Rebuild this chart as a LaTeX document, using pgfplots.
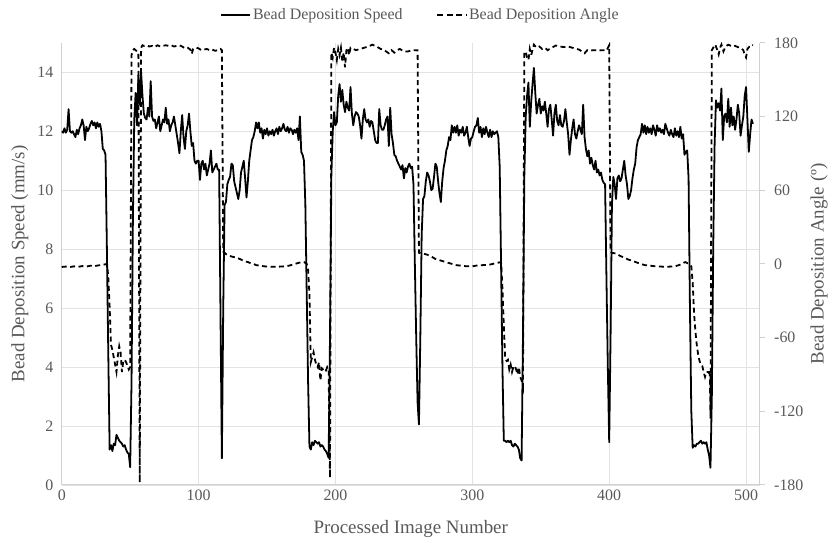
\documentclass[border=0pt]{standalone}
\usepackage{fontspec}
\setmainfont{Liberation Serif}
\usepackage{pgfplots}
\usepackage{pgfplotstable}
\pgfplotsset{compat=1.18}
\definecolor{txtgray}{HTML}{595959}
\definecolor{axgray}{HTML}{D0D0D0}
\definecolor{gridgray}{HTML}{E3E3E3}

\pgfplotstableread[row sep=\\]{
n s\\
0 12.0\\ 1 11.95\\ 2 12.1\\ 3 11.95\\ 4 12.05\\ 5 12.75\\ 6 12.0\\ 7 11.95\\ 8 12.0\\ 9 11.9\\
10 11.8\\ 11 12.05\\ 12 11.9\\ 13 12.1\\ 14 12.2\\ 15 12.4\\ 16 12.2\\ 17 11.7\\ 18 12.15\\ 19 12.0\\
20 12.1\\ 21 12.25\\ 22 12.35\\ 23 12.2\\ 24 12.3\\ 25 12.1\\ 26 12.3\\ 27 12.15\\ 28 12.25\\ 29 12.0\\
30 11.4\\ 31 11.35\\ 32 11.2\\ 33 8.0\\ 34 4.5\\ 35 1.2\\ 36 1.35\\ 37 1.15\\ 38 1.4\\ 39 1.35\\
40 1.7\\ 41 1.6\\ 42 1.5\\ 43 1.45\\ 44 1.4\\ 45 1.3\\ 46 1.35\\ 47 1.2\\ 48 1.1\\ 49 1.05\\
50 0.6\\ 51 3.5\\ 52 9.0\\ 53 12.4\\ 54 13.3\\ 55 12.2\\ 56 13.9\\ 57 12.9\\ 58 14.0\\ 59 13.2\\
60 12.6\\ 61 12.45\\ 62 12.4\\ 63 12.8\\ 64 12.5\\ 65 13.7\\ 66 12.5\\ 67 12.35\\ 68 12.4\\ 69 12.1\\
70 12.3\\ 71 12.5\\ 72 12.0\\ 73 12.2\\ 74 12.4\\ 75 12.3\\ 76 12.8\\ 77 12.25\\ 78 12.4\\ 79 12.0\\
80 12.2\\ 81 12.3\\ 82 12.5\\ 83 12.2\\ 84 11.9\\ 85 11.6\\ 86 11.25\\ 87 12.0\\ 88 12.55\\ 89 11.8\\
90 11.4\\ 91 12.0\\ 92 12.2\\ 93 12.6\\ 94 12.0\\ 95 11.5\\ 96 11.6\\ 97 11.0\\ 98 10.9\\ 99 11.0\\
100 11.0\\ 101 10.35\\ 102 10.9\\ 103 11.0\\ 104 10.7\\ 105 10.9\\ 106 10.5\\ 107 10.7\\ 108 10.9\\ 109 11.35\\
110 10.6\\ 111 10.7\\ 112 10.8\\ 113 10.9\\ 114 10.7\\ 115 10.7\\ 116 5.8\\ 117 0.9\\ 118 6.0\\ 119 9.5\\
120 9.6\\ 121 10.2\\ 122 10.35\\ 123 10.45\\ 124 10.9\\ 125 10.85\\ 126 10.3\\ 127 10.1\\ 128 9.9\\ 129 9.7\\
130 10.0\\ 131 10.6\\ 132 10.8\\ 133 11.0\\ 134 10.4\\ 135 9.75\\ 136 10.3\\ 137 11.0\\ 138 11.35\\ 139 11.7\\
140 11.8\\ 141 12.0\\ 142 12.3\\ 143 12.1\\ 144 12.3\\ 145 11.95\\ 146 12.1\\ 147 11.75\\ 148 12.05\\ 149 11.9\\
150 12.1\\ 151 11.85\\ 152 12.0\\ 153 11.9\\ 154 12.05\\ 155 11.85\\ 156 12.0\\ 157 12.1\\ 158 11.9\\ 159 12.15\\
160 12.0\\ 161 12.1\\ 162 12.25\\ 163 12.05\\ 164 12.0\\ 165 12.15\\ 166 11.95\\ 167 12.1\\ 168 12.05\\ 169 11.9\\
170 12.05\\ 171 11.95\\ 172 12.1\\ 173 11.7\\ 174 12.5\\ 175 11.3\\ 176 11.2\\ 177 11.0\\ 178 9.5\\ 179 6.5\\
180 3.5\\ 181 1.3\\ 182 1.2\\ 183 1.45\\ 184 1.35\\ 185 1.5\\ 186 1.45\\ 187 1.4\\ 188 1.45\\ 189 1.3\\
190 1.35\\ 191 1.3\\ 192 1.2\\ 193 1.15\\ 194 1.05\\ 195 0.92\\ 196 5.0\\ 197 10.5\\ 198 12.0\\ 199 12.65\\
200 12.2\\ 201 12.3\\ 202 13.2\\ 203 13.6\\ 204 13.0\\ 205 13.4\\ 206 12.9\\ 207 12.65\\ 208 13.0\\ 209 12.8\\
210 12.7\\ 211 13.5\\ 212 12.6\\ 213 12.2\\ 214 12.5\\ 215 12.65\\ 216 12.6\\ 217 12.5\\ 218 12.2\\ 219 11.75\\
220 12.4\\ 221 12.75\\ 222 12.4\\ 223 12.3\\ 224 12.4\\ 225 12.15\\ 226 12.35\\ 227 12.3\\ 228 12.0\\ 229 11.7\\
230 11.6\\ 231 11.6\\ 232 12.75\\ 233 12.2\\ 234 12.05\\ 235 12.05\\ 236 12.2\\ 237 12.4\\ 238 12.5\\ 239 11.5\\
240 12.8\\ 241 11.9\\ 242 11.6\\ 243 11.2\\ 244 11.15\\ 245 11.0\\ 246 10.9\\ 247 10.8\\ 248 10.7\\ 249 10.85\\
250 10.4\\ 251 10.75\\ 252 10.6\\ 253 10.8\\ 254 10.9\\ 255 10.75\\ 256 10.8\\ 257 10.2\\ 258 7.5\\ 259 5.0\\
260 2.8\\ 261 2.05\\ 262 5.0\\ 263 8.5\\ 264 9.7\\ 265 9.8\\ 266 10.3\\ 267 10.6\\ 268 10.5\\ 269 10.3\\
270 10.0\\ 271 10.05\\ 272 10.45\\ 273 10.9\\ 274 10.8\\ 275 10.3\\ 276 9.9\\ 277 9.6\\ 278 10.3\\ 279 10.75\\
280 11.0\\ 281 11.35\\ 282 11.5\\ 283 11.8\\ 284 11.7\\ 285 12.2\\ 286 11.95\\ 287 12.15\\ 288 11.95\\ 289 12.2\\
290 11.85\\ 291 12.05\\ 292 11.95\\ 293 12.15\\ 294 11.85\\ 295 11.95\\ 296 12.15\\ 297 11.8\\ 298 11.5\\ 299 11.75\\
300 11.8\\ 301 12.0\\ 302 12.15\\ 303 12.2\\ 304 12.45\\ 305 11.95\\ 306 12.15\\ 307 11.8\\ 308 12.1\\ 309 11.9\\
310 12.15\\ 311 11.95\\ 312 11.8\\ 313 12.05\\ 314 11.8\\ 315 12.0\\ 316 11.9\\ 317 11.95\\ 318 12.0\\ 319 11.8\\
320 10.8\\ 321 7.5\\ 322 4.0\\ 323 1.5\\ 324 1.5\\ 325 1.45\\ 326 1.5\\ 327 1.45\\ 328 1.5\\ 329 1.35\\
330 1.3\\ 331 1.4\\ 332 1.35\\ 333 1.3\\ 334 1.2\\ 335 0.9\\ 336 0.83\\ 337 5.0\\ 338 10.5\\ 339 12.5\\
340 13.2\\ 341 13.65\\ 342 12.15\\ 343 13.0\\ 344 13.6\\ 345 14.15\\ 346 13.3\\ 347 12.6\\ 348 12.9\\ 349 13.1\\
350 12.6\\ 351 12.85\\ 352 12.7\\ 353 13.0\\ 354 12.6\\ 355 12.15\\ 356 12.75\\ 357 12.9\\ 358 12.4\\ 359 11.85\\
360 12.6\\ 361 12.9\\ 362 12.35\\ 363 12.2\\ 364 12.55\\ 365 12.2\\ 366 12.15\\ 367 12.35\\ 368 12.75\\ 369 12.3\\
370 11.9\\ 371 11.2\\ 372 11.7\\ 373 12.1\\ 374 12.4\\ 375 11.9\\ 376 11.75\\ 377 12.0\\ 378 12.2\\ 379 12.05\\
380 11.9\\ 381 12.9\\ 382 11.8\\ 383 11.4\\ 384 11.15\\ 385 11.35\\ 386 10.9\\ 387 11.1\\ 388 10.85\\ 389 10.7\\
390 11.0\\ 391 10.6\\ 392 10.7\\ 393 10.5\\ 394 10.6\\ 395 10.35\\ 396 10.25\\ 397 10.2\\ 398 7.0\\ 399 4.0\\
400 1.45\\ 401 5.0\\ 402 9.5\\ 403 10.45\\ 404 10.2\\ 405 9.7\\ 406 10.4\\ 407 10.5\\ 408 10.3\\ 409 10.4\\
410 10.7\\ 411 11.0\\ 412 10.5\\ 413 10.2\\ 414 9.7\\ 415 9.8\\ 416 10.0\\ 417 10.4\\ 418 10.7\\ 419 10.9\\
420 11.45\\ 421 11.7\\ 422 11.8\\ 423 11.9\\ 424 12.25\\ 425 11.95\\ 426 12.2\\ 427 11.9\\ 428 12.15\\ 429 11.95\\
430 12.1\\ 431 11.9\\ 432 12.2\\ 433 12.05\\ 434 11.85\\ 435 12.2\\ 436 12.0\\ 437 12.1\\ 438 11.95\\ 439 12.05\\
440 11.9\\ 441 12.25\\ 442 12.1\\ 443 11.95\\ 444 11.85\\ 445 12.05\\ 446 11.9\\ 447 11.8\\ 448 12.1\\ 449 11.85\\
450 12.0\\ 451 11.8\\ 452 12.15\\ 453 11.75\\ 454 11.9\\ 455 11.2\\ 456 11.3\\ 457 11.35\\ 458 10.4\\ 459 6.0\\
460 2.5\\ 461 1.26\\ 462 1.35\\ 463 1.3\\ 464 1.4\\ 465 1.4\\ 466 1.45\\ 467 1.5\\ 468 1.4\\ 469 1.45\\
470 1.4\\ 471 1.45\\ 472 1.2\\ 473 1.0\\ 474 0.58\\ 475 3.0\\ 476 8.0\\ 477 11.5\\ 478 13.05\\ 479 12.8\\
480 12.95\\ 481 12.7\\ 482 13.45\\ 483 11.7\\ 484 12.5\\ 485 12.6\\ 486 12.3\\ 487 13.1\\ 488 12.15\\ 489 12.8\\
490 12.2\\ 491 12.5\\ 492 12.05\\ 493 12.4\\ 494 12.9\\ 495 12.6\\ 496 11.85\\ 497 12.2\\ 498 12.5\\ 499 13.2\\
500 13.5\\ 501 12.4\\ 502 11.3\\ 503 11.9\\ 504 12.4\\ 505 12.25\\
}\speedtab

\pgfplotstableread[row sep=\\]{
n a\\
0 -2.5\\ 3 -2.2\\ 6 -2.6\\ 9 -2.0\\ 12 -2.4\\ 15 -1.8\\ 18 -2.2\\ 21 -1.5\\ 24 -1.8\\ 27 -1.2\\ 30 -0.8\\ 32 -0.3\\ 33 0\\
34 -10\\ 35 -35\\ 36 -66\\ 37 -70\\ 38 -76\\ 39 -82\\ 40 -88\\ 41 -75\\ 42 -67\\ 43 -72\\ 44 -88\\ 45 -79\\ 46 -78\\ 47 -80\\ 48 -83\\ 49 -86\\ 50 -84\\
51 170\\ 52 174\\ 53 175\\ 54 174\\ 55 173\\ 56 172\\ 57 -178\\ 58 176\\ 59 178\\
60 177.5\\ 62 178\\ 64 177\\ 66 177.5\\ 68 176.5\\ 70 178\\ 72 177\\ 74 177.5\\ 76 178\\ 78 177.5\\ 80 178\\ 82 177\\ 84 177.5\\ 86 178\\ 88 177\\
90 175.5\\ 92 176\\ 94 174.5\\ 95 171\\ 96 175\\ 98 176\\ 100 175.5\\ 102 174\\ 104 174.5\\ 106 175\\ 108 174\\ 110 174.5\\ 112 173.5\\ 114 174\\ 116 175\\ 117 174\\
118 10\\ 120 8\\ 122 7\\ 124 6\\ 126 5.5\\ 128 5\\ 130 4\\ 132 3\\ 134 2\\ 136 1.5\\ 138 0.5\\ 140 0\\ 142 -1\\ 145 -1.5\\ 148 -2\\ 151 -2.2\\ 154 -2.4\\ 157 -2.3\\ 160 -2.2\\ 163 -2\\ 166 -1.5\\ 169 -0.5\\ 172 0.5\\ 175 1.4\\ 177 1.5\\ 179 0\\
180 -5\\ 181 -25\\ 182 -80\\ 183 -76\\ 184 -72\\ 185 -78\\ 186 -82\\ 187 -84\\ 188 -80\\ 189 -95\\ 190 -85\\ 191 -86\\ 192 -88\\ 193 -87\\ 194 -84\\ 195 -86\\ 196 -174\\
197 172\\ 198 168\\ 199 176\\ 200 172\\ 201 166\\ 202 175\\ 203 170\\ 204 176\\ 205 165\\ 206 172\\ 207 160\\ 208 174\\ 209 176\\ 210 170\\ 211 176\\ 213 175\\ 215 174\\ 218 175\\
221 176\\ 224 177\\ 227 178.5\\ 230 177\\ 233 175\\ 235 174.5\\ 237 173\\ 239 171.5\\ 241 174\\ 243 172\\ 245 174\\ 247 175\\ 250 173\\ 253 173\\ 256 174\\ 259 174\\ 260 174\\
261 9\\ 264 8.4\\ 267 7.5\\ 270 6\\ 273 4\\ 276 3\\ 279 2\\ 282 1\\ 285 0\\ 288 -1\\ 292 -1.5\\ 296 -2\\ 300 -2\\ 304 -1.2\\ 308 -1\\ 312 -0.8\\ 315 0\\ 318 0.8\\ 321 1.4\\
322 -20\\ 323 -50\\ 324 -77\\ 325 -79\\ 326 -78\\ 327 -86\\ 328 -82\\ 329 -88\\ 330 -84\\ 331 -83\\ 332 -86\\ 333 -90\\ 334 -84\\ 335 -92\\ 336 -95\\ 337 -100\\
338 172\\ 339 173\\ 340 168\\ 341 166\\ 342 175\\ 343 170\\ 345 178.5\\ 347 176\\ 349 177\\ 351 175\\ 353 176\\ 355 174\\ 358 176\\ 361 177.8\\ 364 177\\ 367 176.5\\ 370 177\\
373 176\\ 376 175\\ 378 174.5\\ 380 173\\ 382 171.5\\ 384 174\\ 386 173.5\\ 388 174\\ 390 174\\ 392 173.5\\ 394 174\\ 396 174\\ 398 173.5\\ 400 178\\
401 9.7\\ 402 9\\ 405 8.4\\ 408 6.5\\ 411 5\\ 414 3.5\\ 417 2.5\\ 420 1.2\\ 423 0\\ 426 -1\\ 430 -1.5\\ 434 -2\\ 438 -2.2\\ 441 -2.4\\ 445 -2.2\\ 448 -2\\ 451 -1\\ 453 0\\ 455.6 1.5\\ 458 0\\
460 -2\\ 461 -15\\ 462 -40\\ 463 -55\\ 464 -66\\ 465 -74\\ 466 -79\\ 467 -82\\ 468 -83\\ 469 -88\\ 470 -92\\ 471 -88\\ 472 -88\\ 473 -89\\ 473.5 -86\\ 474 -126\\
475 174\\ 476 176\\ 477.5 178.6\\ 479 174\\ 480 170.5\\ 481 176\\ 482 178.6\\ 483.5 173\\ 485 177\\ 487 178.5\\ 490 177\\ 492 177.5\\ 494 176.5\\ 496 176\\ 498 174\\ 499 170\\ 500 168\\ 501 175\\ 502.5 177\\ 504 178.6\\ 505 178\\
}\angletab

\begin{document}
\begin{tikzpicture}
\begin{axis}[
  scale only axis, width=701pt, height=444pt,
  xmin=0, xmax=510, ymin=0, ymax=15,
  xtick={0,100,...,500}, ytick={0,2,...,14},
  axis x line*=bottom, axis y line*=left,
  axis line style={draw=axgray, line width=0.9pt, -},
  xtick style={draw=none}, ytick style={draw=none},
  grid=major, major grid style={draw=gridgray, line width=0.8pt},
  tick label style={font=\fontsize{16}{16}\selectfont, text=txtgray},
  /pgf/number format/assume math mode=true,
  yticklabel style={xshift=-5pt},
  xticklabel style={yshift=-1pt},
  xlabel={Processed Image Number},
  ylabel={Bead Deposition Speed (mm/s)},
  every axis x label/.style={at={(axis description cs:0.5,-0.1)}, anchor=center, font=\fontsize{19}{19}\selectfont, text=txtgray},
  every axis y label/.style={at={(axis description cs:-0.06,0.5)}, rotate=90, anchor=center, font=\fontsize{19}{19}\selectfont, text=txtgray},
  legend columns=2,
  legend style={at={(axis description cs:0.514,1.063)}, anchor=center, draw=none, fill=none,
    font=\fontsize{16}{16}\selectfont, text=txtgray,
    /tikz/every even column/.append style={column sep=32pt}},
  legend image code/.code={\draw[#1] (0pt,0pt) -- (29pt,0pt);},
]
\coordinate (BL) at (rel axis cs:0,0);
\coordinate (TR) at (rel axis cs:1,1);
\addplot[black, line width=1.8pt, line join=round] table[x=n, y=s] {\speedtab};
\addlegendentry{Bead Deposition Speed}
\addlegendimage{black, line width=1.8pt, dash pattern=on 6pt off 3.5pt}
\addlegendentry{Bead Deposition Angle}
\end{axis}
\begin{axis}[
  scale only axis, width=701pt, height=444pt,
  xmin=0, xmax=510, ymin=-180, ymax=180,
  ytick={-180,-120,...,180},
  axis x line=none, axis y line*=right,
  axis line style={draw=axgray, line width=0.9pt, -},
  ytick style={draw=axgray, line width=0.9pt}, tick align=outside, major tick length=5pt,
  /pgf/number format/assume math mode=true,
  yticklabel style={font=\fontsize{16}{16}\selectfont, text=txtgray, xshift=6pt},
  ylabel={Bead Deposition Angle (º)},
  every axis y label/.style={at={(axis description cs:1.085,0.5)}, rotate=90, anchor=center, font=\fontsize{19}{19}\selectfont, text=txtgray},
]
\addplot[black, line width=1.8pt, dash pattern=on 5pt off 3.5pt] table[x=n, y=a] {\angletab};
\end{axis}
\path ([shift={(-62pt,-55pt)}]BL) rectangle ([shift={(68pt,43pt)}]TR);
\end{tikzpicture}
\end{document}
